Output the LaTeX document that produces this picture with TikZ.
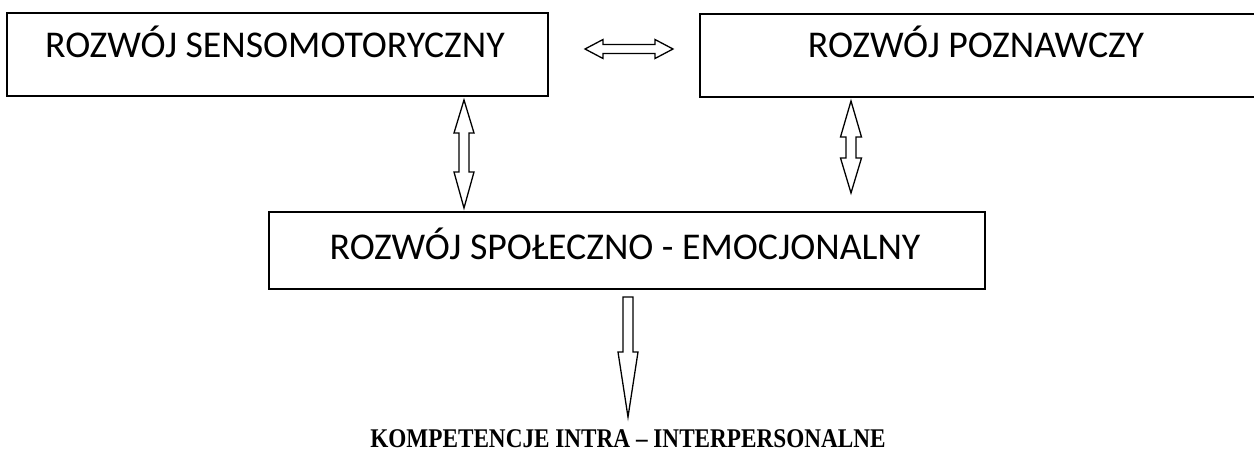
\documentclass[tikz,border=0pt]{standalone}
\usepackage{fontspec}
\setmainfont{Carlito}
\newfontfamily\timesfam{Liberation Serif}
\begin{document}
\begin{tikzpicture}[x=1pt,y=-1pt,
  box/.style={draw,line width=1.6pt,inner sep=0pt,anchor=north west},
  lbl/.style={font=\fontsize{37.8}{42}\selectfont,anchor=base,inner sep=0pt},
  blk/.style={draw,line width=1.3pt,fill=white,line join=miter}]
\useasboundingbox (0,0) rectangle (1254,452);
% boxes
\node[box,minimum width=541pt,minimum height=83pt] (sens) at (6,12) {};
\node[box,minimum width=560pt,minimum height=83pt] (pozn) at (699,13) {};
\node[box,minimum width=716pt,minimum height=77pt] (spol) at (268,211) {};
% labels
\node[lbl] (tsens) at (275,58) {ROZWÓJ SENSOMOTORYCZNY};
\node[lbl] (tpozn) at (976,58) {ROZWÓJ POZNAWCZY};
\node[lbl] (tspol) at (625,259) {ROZWÓJ SPOŁECZNO - EMOCJONALNY};
\node[font=\timesfam\bfseries\fontsize{27}{30}\selectfont,anchor=base,inner sep=0pt,xscale=0.86] (komp) at (628,447) {KOMPETENCJE INTRA – INTERPERSONALNE};
% horizontal double block arrow
\draw[blk] (585,49) -- (603,39.5) -- (603,44.5) -- (655,44.5) -- (655,39.5) -- (673,49)
  -- (655,58.5) -- (655,53.5) -- (603,53.5) -- (603,58.5) -- cycle;
% left vertical double block arrow
\draw[blk] (464,100) -- (474,133) -- (469,133) -- (469,172) -- (474,172) -- (464,208)
  -- (454,172) -- (459,172) -- (459,133) -- (454,133) -- cycle;
% right vertical double block arrow
\draw[blk] (851,101) -- (861.5,137) -- (856,137) -- (856,158) -- (861.5,158) -- (851,193)
  -- (840.5,158) -- (846,158) -- (846,137) -- (840.5,137) -- cycle;
% down block arrow
\draw[blk] (623,297) -- (633,297) -- (633,352) -- (638,352) -- (628,417) -- (618,352)
  -- (623,352) -- cycle;
\end{tikzpicture}
\end{document}
